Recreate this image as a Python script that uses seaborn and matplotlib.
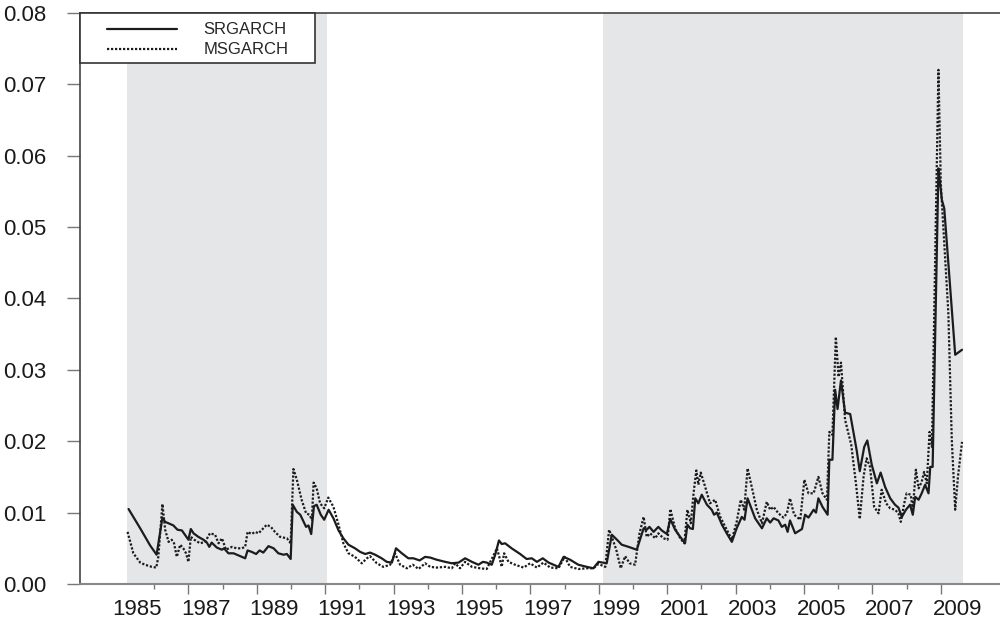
import matplotlib
matplotlib.use("Agg")
import matplotlib.pyplot as plt
import seaborn as sns
from matplotlib.patches import Rectangle

# conditional volatility (decimal year, value)
sr_year = [1985.25, 1985.59, 1985.88, 1986.07, 1986.24, 1986.32, 1986.42, 1986.56, 1986.68, 1986.81,
           1987.00, 1987.07, 1987.15, 1987.29, 1987.44, 1987.54, 1987.61, 1987.68, 1987.83, 1987.98,
           1988.04, 1988.17, 1988.32, 1988.51, 1988.66, 1988.73, 1988.85, 1988.98, 1989.08, 1989.19,
           1989.34, 1989.49, 1989.63, 1989.78, 1989.88, 1989.99, 1990.05, 1990.17, 1990.27, 1990.44,
           1990.51, 1990.59, 1990.67, 1990.75, 1990.87, 1990.97, 1991.10, 1991.24, 1991.39, 1991.53,
           1991.68, 1991.87, 1992.02, 1992.17, 1992.31, 1992.46, 1992.65, 1992.80, 1992.95, 1993.07,
           1993.24, 1993.43, 1993.58, 1993.76, 1993.92, 1994.07, 1994.26, 1994.51, 1994.70, 1994.90,
           1995.09, 1995.29, 1995.48, 1995.61, 1995.72, 1995.87, 1995.97, 1996.08, 1996.16, 1996.26,
           1996.45, 1996.70, 1996.89, 1997.04, 1997.19, 1997.36, 1997.53, 1997.82, 1997.97, 1998.16,
           1998.40, 1998.65, 1998.84, 1998.99, 1999.23, 1999.38, 1999.53, 1999.67, 1999.87, 2000.11,
           2000.31, 2000.40, 2000.48, 2000.60, 2000.74, 2000.84, 2000.99, 2001.09, 2001.23, 2001.38,
           2001.52, 2001.59, 2001.67, 2001.75, 2001.82, 2001.91, 2002.01, 2002.16, 2002.30, 2002.37,
           2002.45, 2002.60, 2002.74, 2002.89, 2003.03, 2003.18, 2003.26, 2003.35, 2003.42, 2003.57,
           2003.77, 2003.91, 2004.01, 2004.11, 2004.25, 2004.35, 2004.45, 2004.52, 2004.59, 2004.74,
           2004.94, 2005.03, 2005.13, 2005.28, 2005.35, 2005.42, 2005.54, 2005.69, 2005.74, 2005.83,
           2005.91, 2005.98, 2006.08, 2006.20, 2006.35, 2006.54, 2006.63, 2006.76, 2006.85, 2006.98,
           2007.13, 2007.24, 2007.37, 2007.52, 2007.66, 2007.76, 2007.86, 2007.98, 2008.10, 2008.18,
           2008.25, 2008.35, 2008.44, 2008.54, 2008.64, 2008.69, 2008.76, 2008.93, 2008.97, 2009.03,
           2009.10, 2009.42, 2009.62]
sr_vol = [0.0105, 0.0078, 0.0054, 0.0041, 0.0093, 0.0087, 0.0085, 0.0082, 0.0076, 0.0075,
          0.0062, 0.0077, 0.0071, 0.0066, 0.0062, 0.0058, 0.0052, 0.0058, 0.0051, 0.0048,
          0.0050, 0.0043, 0.0043, 0.0039, 0.0036, 0.0047, 0.0045, 0.0042, 0.0047, 0.0044,
          0.0053, 0.0050, 0.0043, 0.0041, 0.0042, 0.0035, 0.0111, 0.0101, 0.0097, 0.0080,
          0.0082, 0.0070, 0.0109, 0.0111, 0.0097, 0.0090, 0.0104, 0.0092, 0.0075, 0.0064,
          0.0055, 0.0050, 0.0045, 0.0042, 0.0044, 0.0041, 0.0036, 0.0031, 0.0030, 0.0050,
          0.0043, 0.0036, 0.0036, 0.0033, 0.0038, 0.0037, 0.0034, 0.0031, 0.0029, 0.0030,
          0.0036, 0.0031, 0.0027, 0.0031, 0.0030, 0.0027, 0.0041, 0.0061, 0.0056, 0.0057,
          0.0050, 0.0042, 0.0035, 0.0036, 0.0031, 0.0036, 0.0030, 0.0024, 0.0038, 0.0034,
          0.0027, 0.0024, 0.0022, 0.0031, 0.0029, 0.0069, 0.0062, 0.0055, 0.0052, 0.0048,
          0.0078, 0.0076, 0.0080, 0.0073, 0.0080, 0.0075, 0.0070, 0.0091, 0.0076, 0.0066,
          0.0057, 0.0083, 0.0078, 0.0077, 0.0120, 0.0113, 0.0125, 0.0111, 0.0104, 0.0097,
          0.0100, 0.0083, 0.0071, 0.0059, 0.0078, 0.0094, 0.0090, 0.0120, 0.0111, 0.0092,
          0.0078, 0.0092, 0.0086, 0.0092, 0.0089, 0.0080, 0.0083, 0.0073, 0.0089, 0.0071,
          0.0077, 0.0097, 0.0093, 0.0104, 0.0100, 0.0120, 0.0108, 0.0097, 0.0174, 0.0174,
          0.0272, 0.0245, 0.0285, 0.0240, 0.0238, 0.0187, 0.0158, 0.0192, 0.0201, 0.0167,
          0.0141, 0.0156, 0.0136, 0.0120, 0.0111, 0.0107, 0.0094, 0.0104, 0.0111, 0.0097,
          0.0122, 0.0118, 0.0127, 0.0139, 0.0127, 0.0164, 0.0164, 0.0582, 0.0565, 0.0538,
          0.0526, 0.0321, 0.0328]

ms_year = [1985.22, 1985.39, 1985.59, 1985.73, 1985.93, 1986.06, 1986.12, 1986.24, 1986.32, 1986.42,
           1986.51, 1986.58, 1986.66, 1986.76, 1986.85, 1986.93, 1987.00, 1987.07, 1987.17, 1987.34,
           1987.49, 1987.63, 1987.78, 1987.88, 1987.98, 1988.10, 1988.27, 1988.41, 1988.56, 1988.66,
           1988.73, 1988.85, 1988.95, 1989.05, 1989.17, 1989.29, 1989.41, 1989.53, 1989.68, 1989.88,
           1989.99, 1990.07, 1990.17, 1990.31, 1990.44, 1990.54, 1990.61, 1990.66, 1990.75, 1990.85,
           1990.97, 1991.09, 1991.24, 1991.39, 1991.53, 1991.68, 1991.87, 1992.07, 1992.22, 1992.31,
           1992.51, 1992.70, 1992.90, 1993.04, 1993.19, 1993.39, 1993.56, 1993.73, 1993.92, 1994.07,
           1994.26, 1994.51, 1994.70, 1994.80, 1994.94, 1995.09, 1995.29, 1995.53, 1995.72, 1995.90,
           1996.02, 1996.09, 1996.16, 1996.23, 1996.36, 1996.55, 1996.80, 1996.99, 1997.19, 1997.38,
           1997.58, 1997.82, 1998.00, 1998.16, 1998.40, 1998.65, 1998.84, 1998.99, 1999.19, 1999.30,
           1999.38, 1999.51, 1999.64, 1999.77, 1999.90, 2000.06, 2000.19, 2000.31, 2000.40, 2000.50,
           2000.65, 2000.74, 2000.89, 2001.01, 2001.09, 2001.23, 2001.38, 2001.50, 2001.59, 2001.69,
           2001.77, 2001.85, 2001.91, 2001.98, 2002.11, 2002.25, 2002.40, 2002.55, 2002.74, 2002.89,
           2003.03, 2003.15, 2003.25, 2003.35, 2003.47, 2003.62, 2003.77, 2003.91, 2004.01, 2004.11,
           2004.25, 2004.40, 2004.50, 2004.59, 2004.71, 2004.89, 2005.01, 2005.13, 2005.28, 2005.42,
           2005.54, 2005.67, 2005.74, 2005.83, 2005.93, 2006.01, 2006.08, 2006.20, 2006.38, 2006.52,
           2006.63, 2006.74, 2006.83, 2006.93, 2007.05, 2007.18, 2007.27, 2007.40, 2007.52, 2007.66,
           2007.76, 2007.83, 2007.93, 2008.00, 2008.12, 2008.18, 2008.27, 2008.35, 2008.44, 2008.51,
           2008.59, 2008.67, 2008.74, 2008.93, 2009.00, 2009.22, 2009.32, 2009.42, 2009.50, 2009.62]
ms_vol = [0.0073, 0.0043, 0.0030, 0.0027, 0.0024, 0.0023, 0.0038, 0.0112, 0.0076, 0.0059,
          0.0062, 0.0057, 0.0038, 0.0055, 0.0050, 0.0043, 0.0031, 0.0066, 0.0062, 0.0057,
          0.0059, 0.0071, 0.0069, 0.0057, 0.0064, 0.0048, 0.0052, 0.0050, 0.0050, 0.0052,
          0.0073, 0.0070, 0.0073, 0.0071, 0.0077, 0.0083, 0.0080, 0.0073, 0.0066, 0.0064,
          0.0057, 0.0161, 0.0146, 0.0118, 0.0099, 0.0097, 0.0090, 0.0142, 0.0134, 0.0113,
          0.0106, 0.0121, 0.0108, 0.0083, 0.0057, 0.0043, 0.0038, 0.0029, 0.0036, 0.0039,
          0.0029, 0.0024, 0.0027, 0.0043, 0.0027, 0.0022, 0.0027, 0.0021, 0.0029, 0.0024,
          0.0023, 0.0024, 0.0022, 0.0029, 0.0022, 0.0031, 0.0024, 0.0022, 0.0021, 0.0038,
          0.0050, 0.0038, 0.0024, 0.0043, 0.0031, 0.0027, 0.0023, 0.0029, 0.0023, 0.0030,
          0.0023, 0.0022, 0.0038, 0.0024, 0.0021, 0.0022, 0.0022, 0.0028, 0.0024, 0.0076,
          0.0066, 0.0048, 0.0022, 0.0039, 0.0029, 0.0027, 0.0071, 0.0094, 0.0066, 0.0071,
          0.0064, 0.0071, 0.0064, 0.0062, 0.0105, 0.0078, 0.0064, 0.0057, 0.0104, 0.0085,
          0.0127, 0.0159, 0.0139, 0.0156, 0.0136, 0.0113, 0.0118, 0.0094, 0.0076, 0.0062,
          0.0087, 0.0118, 0.0104, 0.0162, 0.0136, 0.0104, 0.0085, 0.0115, 0.0104, 0.0108,
          0.0099, 0.0093, 0.0099, 0.0120, 0.0097, 0.0090, 0.0146, 0.0127, 0.0127, 0.0150,
          0.0127, 0.0118, 0.0213, 0.0209, 0.0346, 0.0290, 0.0310, 0.0230, 0.0195, 0.0140,
          0.0091, 0.0150, 0.0176, 0.0164, 0.0108, 0.0099, 0.0132, 0.0113, 0.0106, 0.0104,
          0.0099, 0.0087, 0.0113, 0.0127, 0.0125, 0.0104, 0.0160, 0.0134, 0.0143, 0.0157,
          0.0141, 0.0213, 0.0192, 0.0720, 0.0560, 0.0379, 0.0202, 0.0104, 0.0150, 0.0199]

# shaded regimes
regime_start = [1985.21, 1999.12]
regime_end = [1991.06, 2009.64]

label_years = list(range(1985, 2010, 2))
y_ticks = [0.00, 0.01, 0.02, 0.03, 0.04, 0.05, 0.06, 0.07, 0.08]

sns.set_style("ticks")
plt.rcParams['font.family'] = ['Liberation Sans', 'DejaVu Sans']

fig = plt.figure(figsize=(10, 6.23), dpi=100)
ax = fig.add_axes([0.08, 0.0626, 0.92, 0.917])

for s, e in zip(regime_start, regime_end):
    ax.axvspan(s, e, color='#e5e6e8', lw=0, zorder=0)

sns.lineplot(x=sr_year, y=sr_vol, ax=ax, color='#1c1c1c', lw=1.6, estimator=None,
             label='SRGARCH', zorder=3)
sns.lineplot(x=ms_year, y=ms_vol, ax=ax, color='#1c1c1c', lw=1.6, estimator=None,
             label='MSGARCH', zorder=2)
ax.lines[1].set_linestyle((0, (1.0, 0.8)))

ax.set_xlim(1983.83, 2010.73)
ax.set_ylim(0, 0.08)
ax.set_xlabel('')
ax.set_ylabel('')

# y axis
ax.set_yticks(y_ticks)
ax.set_yticklabels([f'{v:.2f}' for v in y_ticks])
ax.tick_params(axis='y', direction='out', length=9.4, width=1, color='#777777',
               pad=14.5, labelsize=16, labelcolor='#1a1a1a')

# x axis: long ticks on odd years, short on even years, labels in mid-year
ax.set_xticks(range(1987, 2010, 2))
ax.set_xticklabels([])
ax.set_xticks(range(1986, 2009, 2), minor=True)
ax.tick_params(axis='x', which='major', direction='out', length=7.2, width=1, color='#777777')
ax.tick_params(axis='x', which='minor', direction='out', length=3.6, width=1, color='#777777')

sec = ax.secondary_xaxis('bottom')
sec.set_xticks([y + 0.5 for y in label_years])
sec.set_xticklabels([str(y) for y in label_years])
sec.tick_params(length=0, pad=11, labelsize=16, labelcolor='#1a1a1a')
sec.spines['bottom'].set_visible(False)

for side in ['left', 'top']:
    ax.spines[side].set_color('#444444')
    ax.spines[side].set_linewidth(1.2)
ax.spines['bottom'].set_color('#888888')
ax.spines['bottom'].set_linewidth(1.5)
ax.spines['right'].set_visible(False)

# legend box in the top left corner
ax.add_patch(Rectangle((0, 0.9114), 0.2554, 0.0886, transform=ax.transAxes,
                       facecolor='white', edgecolor='#333333', lw=1.2, zorder=4,
                       clip_on=False))
leg = ax.legend(loc='upper left', bbox_to_anchor=(0.029, 0.983), frameon=False,
                fontsize=12, handlelength=4.2, handletextpad=1.6, labelspacing=0.3,
                borderpad=0, borderaxespad=0)
leg.set_zorder(5)

fig.savefig('out.png', dpi=100)
